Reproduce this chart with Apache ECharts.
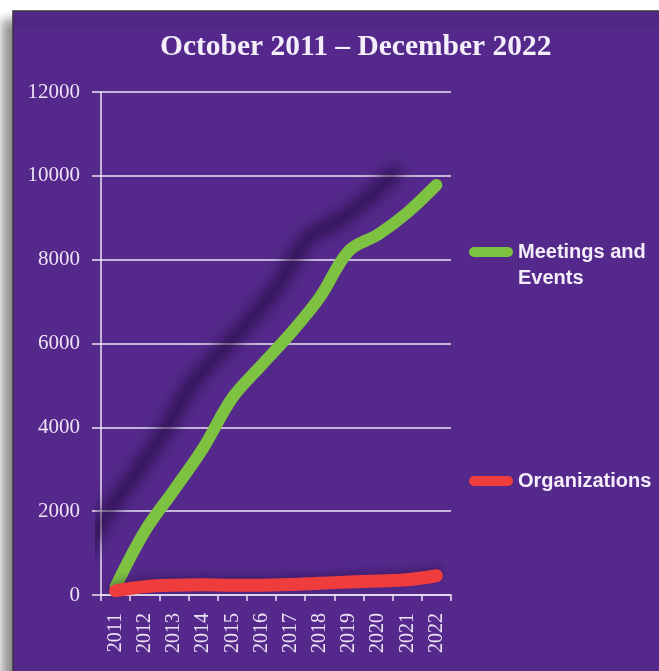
<!DOCTYPE html>
<html>
<head>
<meta charset="utf-8">
<script src="https://cdn.jsdelivr.net/npm/echarts@6/dist/echarts.min.js"></script>
<style>
html,body{margin:0;padding:0;background:#ffffff;}
#chart{width:659px;height:671px;}
</style>
</head>
<body>
<div id="chart"></div>
<script>
var years = ['2011','2012','2013','2014','2015','2016','2017','2018','2019','2020','2021','2022'];
var meetingsEvents = [200, 1520, 2500, 3500, 4700, 5480, 6240, 7100, 8210, 8600, 9120, 9780];
var organizations = [100, 200, 235, 245, 235, 235, 250, 280, 310, 335, 365, 460];
var yTicks = {min: 0, max: 12000, interval: 2000};
var titleText = 'October 2011 \u2013 December 2022';
var seriesNames = ['Meetings and Events', 'Organizations'];

var PURPLE = '#54298b';
var LABEL = '#ece2f6';
var GRID = '#ece4f4';
var GREEN = '#7ec242';
var RED = '#ef3d3d';
var legendIcon = 'path://M5,0 L39,0 A5,5 0 0 1 39,10 L5,10 A5,5 0 0 1 5,0 Z';
var legendText = {color: '#f4eefa', fontFamily: 'Liberation Sans', fontWeight: 'bold', fontSize: 20, lineHeight: 26};

var chart = echarts.init(document.getElementById('chart'), null, {renderer: 'canvas'});
chart.setOption({
  animation: false,
  backgroundColor: '#ffffff',
  graphic: [{
    type: 'rect',
    z: -10,
    shape: {x: 13, y: 11, width: 700, height: 700},
    style: {
      fill: PURPLE, stroke: '#3a3440', lineWidth: 1.5,
      shadowBlur: 10, shadowOffsetX: -9, shadowOffsetY: 10, shadowColor: 'rgba(0,0,0,0.45)'
    }
  }],
  title: {
    text: titleText,
    left: 155, top: 27,
    textStyle: {color: '#f4eefa', fontFamily: 'Liberation Serif', fontWeight: 'bold', fontSize: 29.5}
  },
  legend: [{
    data: [{name: seriesNames[0], icon: legendIcon}],
    left: 469, top: 213, padding: 0, itemWidth: 44, itemHeight: 10,
    formatter: function () { return '{s|}\n{t|Meetings and}\n{t|Events}'; },
    textStyle: {
      color: '#f4eefa', fontFamily: 'Liberation Sans', fontWeight: 'bold', fontSize: 20, lineHeight: 26,
      rich: {s: {height: 26, lineHeight: 26}, t: legendText}
    }
  }, {
    data: [{name: seriesNames[1], icon: legendIcon}],
    left: 469, top: 471, padding: 0, itemWidth: 44, itemHeight: 10,
    textStyle: {color: '#f4eefa', fontFamily: 'Liberation Sans', fontWeight: 'bold', fontSize: 20}
  }],
  grid: {left: 101, right: 208, top: 92, bottom: 76, containLabel: false},
  xAxis: {
    type: 'category',
    data: years,
    boundaryGap: true,
    axisLine: {show: true, lineStyle: {color: GRID, width: 1.5}},
    axisTick: {show: true, length: 6, lineStyle: {color: GRID, width: 1.5}},
    axisLabel: {rotate: 90, margin: 18, color: LABEL, fontFamily: 'Liberation Serif', fontSize: 20, interval: 0},
    splitLine: {show: false}
  },
  yAxis: {
    type: 'value',
    min: yTicks.min, max: yTicks.max, interval: yTicks.interval,
    axisLine: {show: true, lineStyle: {color: GRID, width: 1.5}},
    axisTick: {show: true, length: 9, lineStyle: {color: GRID, width: 1.5}},
    axisLabel: {margin: 21, color: LABEL, fontFamily: 'Liberation Serif', fontSize: 21,
      formatter: function (v) { return String(v); }},
    splitLine: {show: true, lineStyle: {color: GRID, width: 1.5}}
  },
  series: [{
    name: seriesNames[0],
    type: 'line',
    data: meetingsEvents,
    smooth: 0.35,
    showSymbol: false,
    symbol: 'none',
    color: GREEN,
    lineStyle: {color: GREEN, width: 12, cap: 'round', join: 'round',
      shadowColor: 'rgba(30,8,55,0.75)', shadowBlur: 14, shadowOffsetX: -41, shadowOffsetY: -13},
    z: 3
  }, {
    name: seriesNames[1],
    type: 'line',
    data: organizations,
    smooth: 0.35,
    showSymbol: false,
    symbol: 'none',
    color: RED,
    lineStyle: {color: RED, width: 13, cap: 'round', join: 'round',
      shadowColor: 'rgba(30,8,55,0.35)', shadowBlur: 8, shadowOffsetX: 0, shadowOffsetY: -3},
    z: 4
  }]
});
</script>
</body>
</html>
